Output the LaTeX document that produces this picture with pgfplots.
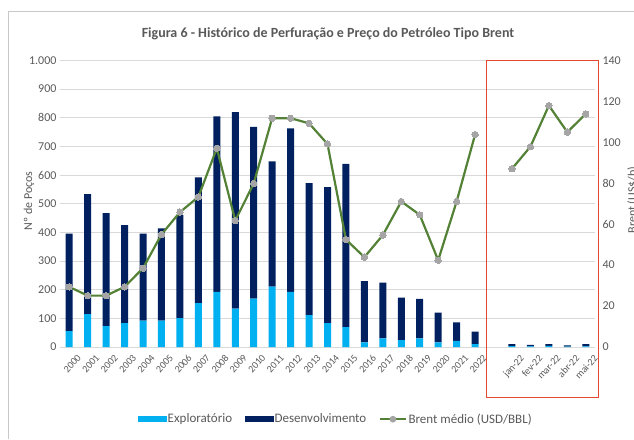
\documentclass[border=0pt]{standalone}
\usepackage{fontspec}
\setmainfont{Carlito}
\usepackage{pgfplots}
\usepackage{pgfplotstable}
\pgfplotsset{compat=1.18}
\definecolor{expl}{HTML}{00B0F0}
\definecolor{dev}{HTML}{002060}
\definecolor{brent}{HTML}{538135}
\definecolor{mk}{HTML}{A5A5A5}
\definecolor{txt}{HTML}{595959}
\definecolor{grd}{HTML}{D9D9D9}
\definecolor{frm}{HTML}{C8C8C8}
\definecolor{box}{HTML}{E2492F}

\pgfplotstableread{
x e d
0 55 341
1 115 419
2 73 394
3 83 342
4 92 304
5 92 322
6 101 359
7 153 439
8 192 613
9 134 686
10 169 599
11 211 437
12 192 571
13 111 461
14 83 475
15 69 570
16 16 214
17 30 195
18 24 148
19 30 138
20 16 104
21 21 65
22 10 44
24 3 7
25 2 5
26 4 6
27 1 5
28 2 8
}\wells

\pgfplotstableread{
x b
0 29.4
1 25.1
2 25.1
3 29.4
4 38.5
5 55.0
6 65.9
7 73.3
8 97.1
9 61.8
10 79.9
11 111.8
12 111.8
13 109.3
14 99.2
15 52.5
16 43.9
17 54.7
18 71.1
19 64.6
20 42.4
21 71.1
22 103.8
23 nan
24 87.1
25 97.9
26 118.0
27 105.0
28 113.9
}\brentdata

\begin{document}
\begin{tikzpicture}
\useasboundingbox (0pt,0pt) rectangle (634pt,439pt);
\draw[frm, line width=0.8pt] (8pt,0pt) -- (8pt,428pt) -- (634pt,428pt);
\node[font=\fontsize{14}{16}\selectfont\bfseries, text=txt] at (328pt,405pt) {Figura 6 - Histórico de Perfuração e Preço do Petróleo Tipo Brent};

\begin{axis}[
  at={(60pt,92pt)}, anchor=south west, scale only axis,
  width=535pt, height=286.5pt,
  xmin=-0.5, xmax=28.5, ymin=0, ymax=1000,
  enlargelimits=false,
  ybar stacked, bar width=7pt,
  xtick={0,1,2,3,4,5,6,7,8,9,10,11,12,13,14,15,16,17,18,19,20,21,22,24,25,26,27,28},
  xticklabels={2000,2001,2002,2003,2004,2005,2006,2007,2008,2009,2010,2011,2012,2013,2014,2015,2016,2017,2018,2019,2020,2021,2022,jan-22,fev-22,mar-22,abr-22,mai-22},
  x tick label style={rotate=48, anchor=north east, font=\fontsize{10}{11}\selectfont, inner sep=1pt, yshift=-9pt, xshift=1pt, text=txt},
  ytick={0,100,...,1000},
  y tick label style={font=\fontsize{12}{14}\selectfont, text=txt},
  ymajorgrids, grid style={grd, line width=0.8pt},
  axis x line*=bottom, axis y line*=left,
  x axis line style={grd, line width=0.8pt, -},
  y axis line style={draw=none},
  major tick length=0pt,
  /pgf/number format/.cd, 1000 sep={.}, assume math mode=true,
  /pgfplots/.cd,
  ylabel={Nº de Poços},
  ylabel style={at={(axis description cs:-0.058,0.51)}, anchor=center, font=\fontsize{12}{14}\selectfont, text=txt},
]
\addplot[fill=expl, draw=none] table[x=x,y=e]{\wells};
\addplot[fill=dev, draw=none] table[x=x,y=d]{\wells};
\end{axis}

\begin{axis}[
  at={(60pt,92pt)}, anchor=south west, scale only axis,
  width=535pt, height=286.5pt,
  xmin=-0.5, xmax=28.5, ymin=0, ymax=140,
  enlargelimits=false,
  axis x line=none, axis y line*=right,
  y axis line style={draw=none},
  ytick={0,20,...,140},
  y tick label style={font=\fontsize{12}{14}\selectfont, text=txt, xshift=4pt},
  major tick length=0pt,
  /pgf/number format/.cd, assume math mode=true,
  /pgfplots/.cd,
  ylabel={Brent (US\$/b)},
  ylabel style={at={(axis description cs:1.07,0.513)}, anchor=center, font=\fontsize{12}{14}\selectfont, text=txt},
  legend style={at={(0.515,-0.252)}, anchor=center, draw=none, fill=none,
    font=\fontsize{13}{15}\selectfont, text=txt, legend columns=3,
    /tikz/every even column/.append style={column sep=11pt},
    inner sep=0pt, nodes={inner sep=1.5pt}},
]
\addlegendimage{legend image code/.code={\fill[expl] (0pt,-2.5pt) rectangle (28pt,2.5pt);}}
\addlegendentry{Exploratório}
\addlegendimage{legend image code/.code={\fill[dev] (0pt,-2.5pt) rectangle (28pt,2.5pt);}}
\addlegendentry{Desenvolvimento}
\addplot[brent, line width=2.2pt, mark=*, mark size=3.2pt, mark options={fill=mk, draw=mk, line width=0pt}, unbounded coords=jump,
  legend image code/.code={\draw[brent, line width=2.2pt] (0pt,0pt) -- (26pt,0pt); \fill[mk] (13pt,0pt) circle (2.2pt);}]
  table[x=x,y=b]{\brentdata};
\addlegendentry{Brent médio (USD/BBL)}
\end{axis}

\draw[box, line width=1pt] (486pt,42pt) rectangle (598pt,378pt);
\end{tikzpicture}
\end{document}
